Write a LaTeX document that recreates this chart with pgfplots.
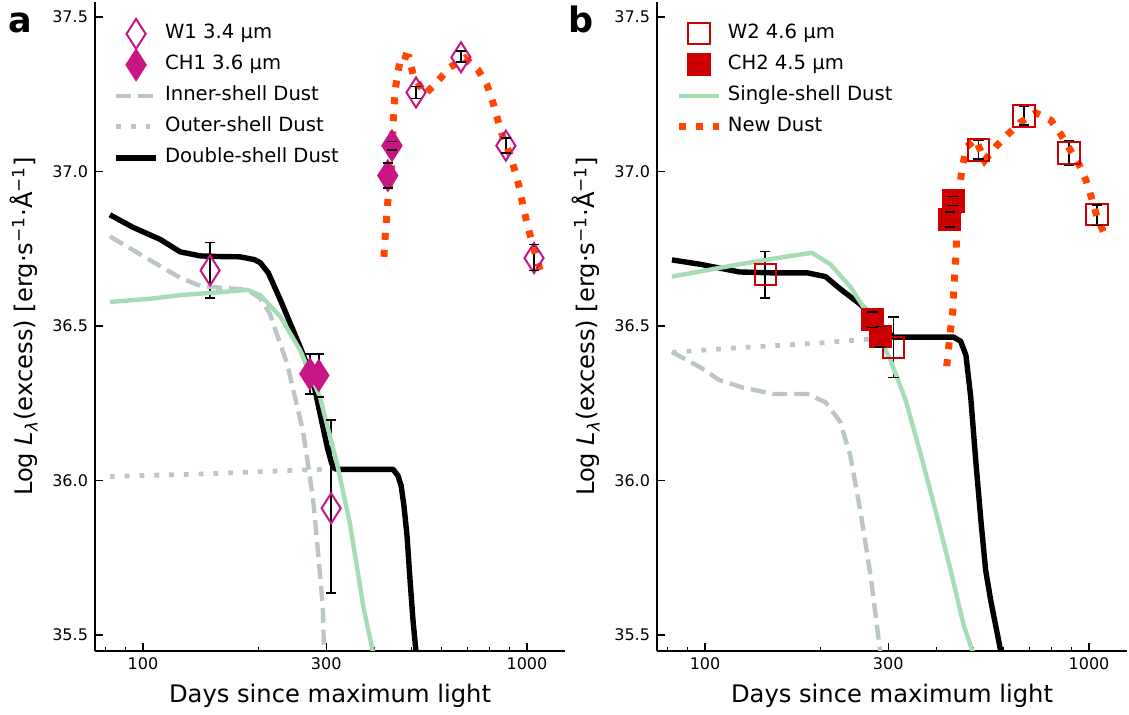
\documentclass[border=0pt]{standalone}
\usepackage{fontspec}
\setmainfont{DejaVu Sans}
\usepackage{pgfplots}
\pgfplotsset{compat=1.18}
\definecolor{cmag}{RGB}{199,21,133}
\definecolor{cred}{RGB}{204,0,0}
\definecolor{corange}{RGB}{255,69,0}
\definecolor{cgreen}{RGB}{166,220,182}
\definecolor{cgray}{RGB}{188,198,200}
\newcommand{\tsz}{\fontsize{8}{9.6}\selectfont}
\newcommand{\lsz}{\fontsize{9.8}{11.8}\selectfont}
\newcommand{\asz}{\fontsize{12.1}{14.5}\selectfont}
\tikzset{
  dashedgray/.style={cgray, line width=2.2pt, line cap=butt, dash pattern=on 7.5pt off 3.5pt},
  dottedgray/.style={cgray, line width=2.4pt, line cap=butt, dash pattern=on 2.4pt off 5pt},
  greenline/.style={cgreen, line width=2.2pt},
  blackline/.style={black, line width=2.7pt, line join=round},
  orangeline/.style={corange, line width=3.5pt, line cap=butt, dash pattern=on 3.5pt off 5pt},
  capmarks/.style={only marks, mark=-, mark size=2.6pt, black, mark options={solid, black, line width=0.75pt}},
}
\begin{document}
\begin{tikzpicture}
\useasboundingbox (0,0) rectangle (564.5pt,357.5pt);
% ---------------- panel a ----------------
\begin{axis}[
    at={(47.5pt,32pt)}, anchor=south west,
    width=235pt, height=324.5pt, scale only axis,
    xmode=log, xmin=75, xmax=1256, ymin=35.448, ymax=37.549,
    axis lines*=left,
    axis line style={line width=0.65pt},
    tick align=inside,
    major tick length=4pt, minor tick length=2.2pt,
    tick style={black, line width=0.65pt},
    xtick={100,300,1000}, xticklabels={100,300,1000},
    minor xtick={80,90,200,400,500,600,700,800,900},
    ytick={35.5,36,36.5,37,37.5},
    yticklabels={35.5,36.0,36.5,37.0,37.5},
    tick label style={font=\tsz},
    xlabel={Days since maximum light},
    ylabel={Log \textit{L}\textsubscript{\textit{λ}}(excess) [erg·s\textsuperscript{−1}·Å\textsuperscript{−1}]},
    label style={font=\asz},
    xlabel style={at={(axis description cs:0.5,-0.080)}, anchor=base},
    ylabel style={at={(axis description cs:-0.132,0.5)}, anchor=base},
    legend style={draw=none, fill=none, at={(axis description cs:0.0255,0.9815)}, anchor=north west,
      font=\lsz, row sep=0pt, nodes={inner sep=0pt, text height=10.2pt, text depth=5.3pt}},
    legend cell align=left,
    legend image code/.code={\draw[mark repeat=2,mark phase=2,#1] plot coordinates {(0pt,0pt) (10pt,0pt) (20pt,0pt)}; \path[draw=none,fill=none] (0pt,0pt) -- (24.5pt,0pt);},
]
\addplot[only marks, mark=diamond, mark size=7.5pt, mark options={xscale=0.85, cmag, fill=white, line width=1pt}]
  coordinates {(149.5,36.68) (309,35.91) (514,37.256) (673,37.37) (881,37.084) (1043,36.72)};
\addlegendentry{W1 3.4 µm}
\addplot[only marks, mark=diamond*, mark size=7.5pt, mark options={xscale=0.85, cmag, fill=cmag, line width=1pt}]
  coordinates {(272,36.345) (287,36.34) (434,36.987) (445,37.084)};
\addlegendentry{CH1 3.6 µm}
\addplot[draw=none, mark=none, forget plot,
    error bars/.cd, y dir=both, y explicit, error mark=none,
    error bar style={draw=black, solid, line width=0.75pt}] coordinates {
  (149.5,36.68) +- (0,0.09) (309,35.915) +- (0,0.28) (514,37.256) +- (0,0.02)
  (673,37.372) +- (0,0.018) (881,37.084) +- (0,0.024) (1043,36.722) +- (0,0.042)
  (272,36.345) +- (0,0.065) (287,36.34) +- (0,0.07) (434,36.987) +- (0,0.04) (445,37.084) +- (0,0.014)};
\addplot[capmarks, forget plot] coordinates {
  (149.5,36.77) (309,36.195) (514,37.276) (673,37.39) (881,37.108) (1043,36.764)
  (272,36.41) (287,36.41) (434,37.027) (445,37.098)};
\addplot[capmarks, forget plot] coordinates {
  (149.5,36.59) (309,35.635) (514,37.236) (673,37.354) (881,37.06) (1043,36.68)
  (272,36.28) (287,36.27) (434,36.947) (445,37.07)};
\addplot[dashedgray] coordinates {
  (82,36.79) (91,36.757) (104,36.714) (125,36.656) (141,36.63) (149,36.627) (187,36.617) (202,36.59)
  (214,36.54) (237,36.38) (261,36.16) (277,35.945) (286,35.76) (294,35.59) (296,35.445) (297,35.3)};
\addlegendentry{Inner-shell Dust}
\addplot[dottedgray] coordinates {(82,36.013) (150,36.022) (250,36.033) (320,36.038)};
\addlegendentry{Outer-shell Dust}
\addplot[blackline] coordinates {
  (82,36.86) (94,36.82) (111,36.78) (125,36.74) (141,36.727) (157,36.725) (179,36.724) (195,36.715)
  (202,36.705) (212,36.672) (228,36.584) (257,36.43) (277,36.325) (302,36.107) (310,36.055) (316,36.038)
  (325,36.036) (448,36.036) (461,36.016) (470,35.984) (478,35.919) (487,35.822) (496,35.676)
  (505,35.545) (514,35.445) (523,35.35)};
\addlegendentry{Double-shell Dust}
\addplot[greenline, forget plot] coordinates {
  (82,36.578) (104,36.588) (125,36.60) (160,36.61) (187,36.617) (202,36.60) (228,36.53) (257,36.42)
  (289,36.27) (320,36.055) (346,35.86) (375,35.59) (397,35.445) (410,35.35)};
\addplot[orangeline, forget plot] coordinates {
  (424,36.724) (427,36.786) (434,36.903) (445,37.023) (448,37.143) (453,37.26) (461,37.32) (470,37.377)
  (493,37.37) (505,37.315) (542,37.25) (583,37.29) (630,37.338) (690,37.367) (745,37.33) (787,37.28)
  (815,37.224) (840,37.166) (866,37.11) (903,37.055) (931,37.0) (959,36.94) (977,36.886) (1006,36.82)
  (1031,36.77) (1094,36.66)};
\end{axis}
% ---------------- panel b ----------------
\begin{axis}[
    at={(328.5pt,32pt)}, anchor=south west,
    width=235pt, height=324.5pt, scale only axis,
    xmode=log, xmin=75, xmax=1256, ymin=35.448, ymax=37.549,
    axis lines*=left,
    axis line style={line width=0.65pt},
    tick align=inside,
    major tick length=4pt, minor tick length=2.2pt,
    tick style={black, line width=0.65pt},
    xtick={100,300,1000}, xticklabels={100,300,1000},
    minor xtick={80,90,200,400,500,600,700,800,900},
    ytick={35.5,36,36.5,37,37.5},
    yticklabels={35.5,36.0,36.5,37.0,37.5},
    tick label style={font=\tsz},
    xlabel={Days since maximum light},
    ylabel={Log \textit{L}\textsubscript{\textit{λ}}(excess) [erg·s\textsuperscript{−1}·Å\textsuperscript{−1}]},
    label style={font=\asz},
    xlabel style={at={(axis description cs:0.5,-0.080)}, anchor=base},
    ylabel style={at={(axis description cs:-0.132,0.5)}, anchor=base},
    legend style={draw=none, fill=none, at={(axis description cs:0.0255,0.9815)}, anchor=north west,
      font=\lsz, row sep=0pt, nodes={inner sep=0pt, text height=10.2pt, text depth=5.3pt}},
    legend cell align=left,
    legend image code/.code={\draw[mark repeat=2,mark phase=2,#1] plot coordinates {(0pt,0pt) (10pt,0pt) (20pt,0pt)}; \path[draw=none,fill=none] (0pt,0pt) -- (24.5pt,0pt);},
]
\addplot[only marks, mark=square, mark size=5.3pt, mark options={cred, fill=white, line width=1pt}]
  coordinates {(143.5,36.666) (310,36.43) (516,37.07) (677,37.18) (887,37.06) (1049,36.86)};
\addlegendentry{W2 4.6 µm}
\addplot[only marks, mark=square*, mark size=5.3pt, mark options={cred, fill=cred, line width=1pt}]
  coordinates {(273,36.52) (286,36.465) (434,36.845) (444,36.905)};
\addlegendentry{CH2 4.5 µm}
\addplot[draw=none, mark=none, forget plot,
    error bars/.cd, y dir=both, y explicit, error mark=none,
    error bar style={draw=black, solid, line width=0.75pt}] coordinates {
  (143.5,36.666) +- (0,0.075) (310,36.432) +- (0,0.098) (516,37.07) +- (0,0.03)
  (677,37.18) +- (0,0.03) (887,37.06) +- (0,0.04) (1049,36.858) +- (0,0.033)
  (273,36.52) +- (0,0.025) (286,36.465) +- (0,0.033) (434,36.845) +- (0,0.024) (444,36.905) +- (0,0.015)};
\addplot[capmarks, forget plot] coordinates {
  (143.5,36.741) (310,36.53) (516,37.10) (677,37.21) (887,37.10) (1049,36.891)
  (273,36.545) (286,36.498) (434,36.869) (444,36.92)};
\addplot[capmarks, forget plot] coordinates {
  (143.5,36.591) (310,36.334) (516,37.04) (677,37.15) (887,37.02) (1049,36.825)
  (273,36.495) (286,36.432) (434,36.821) (444,36.89)};
\addplot[dashedgray, forget plot] coordinates {
  (82,36.416) (97,36.367) (109,36.325) (126,36.30) (151,36.28) (185,36.28) (206,36.253) (225,36.19)
  (239,36.08) (254,35.90) (270,35.69) (286,35.445) (290,35.35)};
\addplot[dottedgray, forget plot] coordinates {(82,36.415) (123,36.43) (200,36.445) (280,36.46)};
\addplot[blackline, forget plot] coordinates {
  (82,36.714) (97,36.70) (123,36.675) (151,36.672) (185,36.672) (206,36.66) (225,36.62) (254,36.57)
  (286,36.50) (310,36.464) (444,36.464) (463,36.451) (478,36.406) (492,36.27) (507,36.065)
  (523,35.87) (538,35.71) (555,35.61) (589,35.448) (600,35.38)};
\addplot[greenline] coordinates {
  (82,36.66) (123,36.70) (167,36.727) (190,36.737) (212,36.70) (239,36.627) (270,36.526) (304,36.39)
  (333,36.26) (364,36.088) (399,35.90) (436,35.71) (472,35.53) (498,35.445) (510,35.4)};
\addlegendentry{Single-shell Dust}
\addplot[orangeline] coordinates {
  (426,36.37) (431,36.43) (436,36.49) (442,36.55) (444,36.607) (447,36.666) (450,36.724) (452,36.786)
  (455,36.844) (458,36.90) (461,36.96) (469,37.02) (480,37.08) (507,37.104) (535,37.036) (571,37.08)
  (614,37.12) (664,37.16) (727,37.19) (796,37.166) (845,37.12) (898,37.065) (942,37.023) (983,36.97)
  (1018,36.91) (1049,36.854) (1094,36.80)};
\addlegendentry{New Dust}
\end{axis}
\node[anchor=base west, font=\fontsize{17.5}{20}\selectfont\bfseries, inner sep=0pt] at (4pt,341pt) {a};
\node[anchor=base west, font=\fontsize{17.5}{20}\selectfont\bfseries, inner sep=0pt] at (284pt,341pt) {b};
\end{tikzpicture}
\end{document}
